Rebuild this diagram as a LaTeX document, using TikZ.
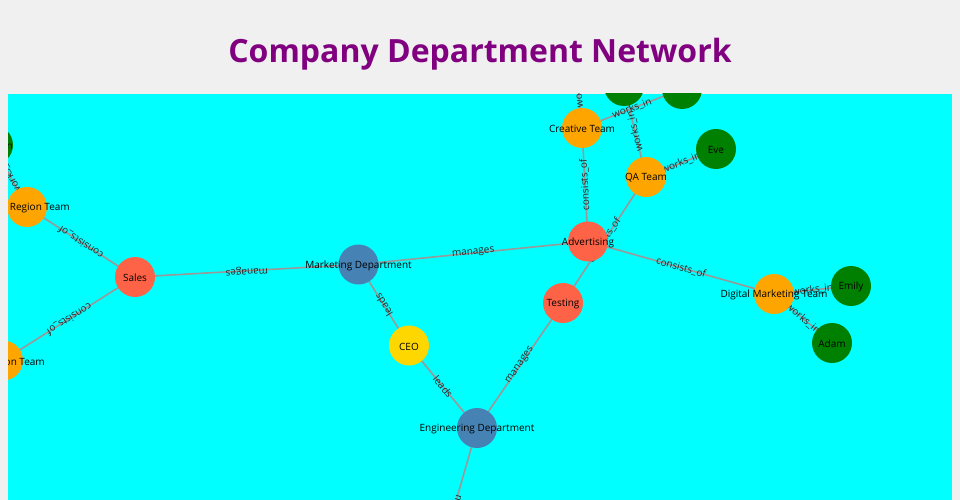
\documentclass[tikz,border=0pt]{standalone}
\usepackage{fontspec}
\setmainfont{Open Sans}
\definecolor{pagebg}{HTML}{F0F0F0}
\definecolor{canvascol}{HTML}{00FFFF}
\definecolor{titlecol}{HTML}{800080}
\definecolor{linkcol}{HTML}{999999}
\definecolor{tomatocol}{HTML}{FF6347}
\definecolor{steelcol}{HTML}{4682B4}
\definecolor{goldcol}{HTML}{FFD700}
\definecolor{orangecol}{HTML}{FFA500}
\definecolor{greencol}{HTML}{008000}
\pgfdeclarelayer{canvaslayer}
\pgfdeclarelayer{edgelayer}
\pgfsetlayers{canvaslayer,edgelayer,main}
\tikzset{
  ent/.style={circle, minimum size=40pt, inner sep=0pt, draw=none},
  dept/.style={ent, fill=steelcol},
  unit/.style={ent, fill=tomatocol},
  team/.style={ent, fill=orangecol},
  person/.style={ent, fill=greencol},
  chief/.style={ent, fill=goldcol},
  nlbl/.style={font=\fontsize{10}{12}\selectfont, text=black, inner sep=0pt, yshift=-1pt},
  link/.style={draw=linkcol, line width=1.6pt},
  elab/.style={font=\fontsize{10}{12}\selectfont, text=black!85, inner sep=0pt, midway, sloped, allow upside down},
}
\begin{document}
\begin{tikzpicture}[x=1pt,y=-1pt]
\useasboundingbox (0,0) rectangle (960,500);
\begin{pgfonlayer}{canvaslayer}
\fill[pagebg] (0,0) rectangle (960,500);
\fill[canvascol] (8,94) rectangle (952,500);
\end{pgfonlayer}
\node[font=\fontsize{32}{38}\selectfont\bfseries, text=titlecol, anchor=base, inner sep=0pt] (title) at (480,63) {Company Department Network};
\begin{scope}
\clip (8,94) rectangle (952,500);
% nodes
\node[unit]   (sales)    at (135,277) {};
\node[dept]   (mkt)      at (358.5,264.5) {};
\node[unit]   (adv)      at (588,241.5) {};
\node[unit]   (testing)  at (563,303) {};
\node[chief]  (ceo)      at (409,345.5) {};
\node[dept]   (eng)      at (477,428) {};
\node[team]   (creative) at (582,128) {};
\node[team]   (qa)       at (646,177) {};
\node[person] (eve)      at (716,149) {};
\node[team]   (dmt)      at (774,294) {};
\node[person] (emily)    at (851,286) {};
\node[person] (adam)     at (832,343) {};
\node[team]   (westrt)   at (27,207) {};
\node[team]   (eastrt)   at (3,360.5) {};
\node[person] (greentl)  at (-7,145) {};
\node[person] (greentop1) at (624,86) {};
\node[person] (greentop2) at (682,89) {};
\coordinate (above) at (574,46);
\coordinate (below) at (427,602);
% node labels
\node[nlbl] (lsales) at (sales) {Sales};
\node[nlbl] (lmkt) at (mkt) {Marketing Department};
\node[nlbl] (ladv) at (adv) {Advertising};
\node[nlbl] (ltesting) at (testing) {Testing};
\node[nlbl] (lceo) at (ceo) {CEO};
\node[nlbl] (leng) at (eng) {Engineering Department};
\node[nlbl] (lcreative) at (creative) {Creative Team};
\node[nlbl] (lqa) at (qa) {QA Team};
\node[nlbl] (leve) at (eve) {Eve};
\node[nlbl] (ldmt) at (dmt) {Digital Marketing Team};
\node[nlbl] (lemily) at (emily) {Emily};
\node[nlbl] (ladam) at (adam) {Adam};
\node[nlbl, anchor=east] (lwestrt) at (70,207) {Region Team};
\node[nlbl, anchor=east] (leastrt) at (45,361) {on Team};
\node[nlbl, anchor=east] (lgreentl) at (13,146) {n};
\end{scope}
\begin{pgfonlayer}{edgelayer}
\begin{scope}
\clip (8,94) rectangle (952,500);
\draw[link] (mkt.center) -- (sales.center) node[elab] (e1) {manages};
\draw[link] (mkt.center) -- (adv.center) node[elab] (e2) {manages};
\draw[link] (sales.center) -- (westrt.center) node[elab] (e3) {consists\_of};
\draw[link] (sales.center) -- (eastrt.center) node[elab] (e4) {consists\_of};
\draw[link] (ceo.center) -- (mkt.center) node[elab] (e5) {leads};
\draw[link] (ceo.center) -- (eng.center) node[elab] (e6) {leads};
\draw[link] (eng.center) -- (testing.center) node[elab] (e7) {manages};
\draw[link] (testing.center) -- (qa.center) node[elab] (e8) {consists\_of};
\draw[link] (adv.center) -- (creative.center) node[elab] (e9) {consists\_of};
\draw[link] (adv.center) -- (dmt.center) node[elab] (e10) {consists\_of};
\draw[link] (qa.center) -- (eve.center) node[elab] (e11) {works\_in};
\draw[link] (qa.center) -- (greentop1.center) node[elab] (e12) {works\_in};
\draw[link] (creative.center) -- (greentop2.center) node[elab] (e13) {works\_in};
\draw[link] (creative.center) -- (above) node[elab] (e14) {works\_in};
\draw[link] (dmt.center) -- (emily.center) node[elab] (e15) {works\_in};
\draw[link] (dmt.center) -- (adam.center) node[elab] (e16) {works\_in};
\draw[link] (westrt.center) -- (greentl.center) node[elab] (e17) {works\_in};
\draw[link] (eng.center) -- (below) node[elab] (e18) {manages};
\end{scope}
\end{pgfonlayer}
\end{tikzpicture}
\end{document}
